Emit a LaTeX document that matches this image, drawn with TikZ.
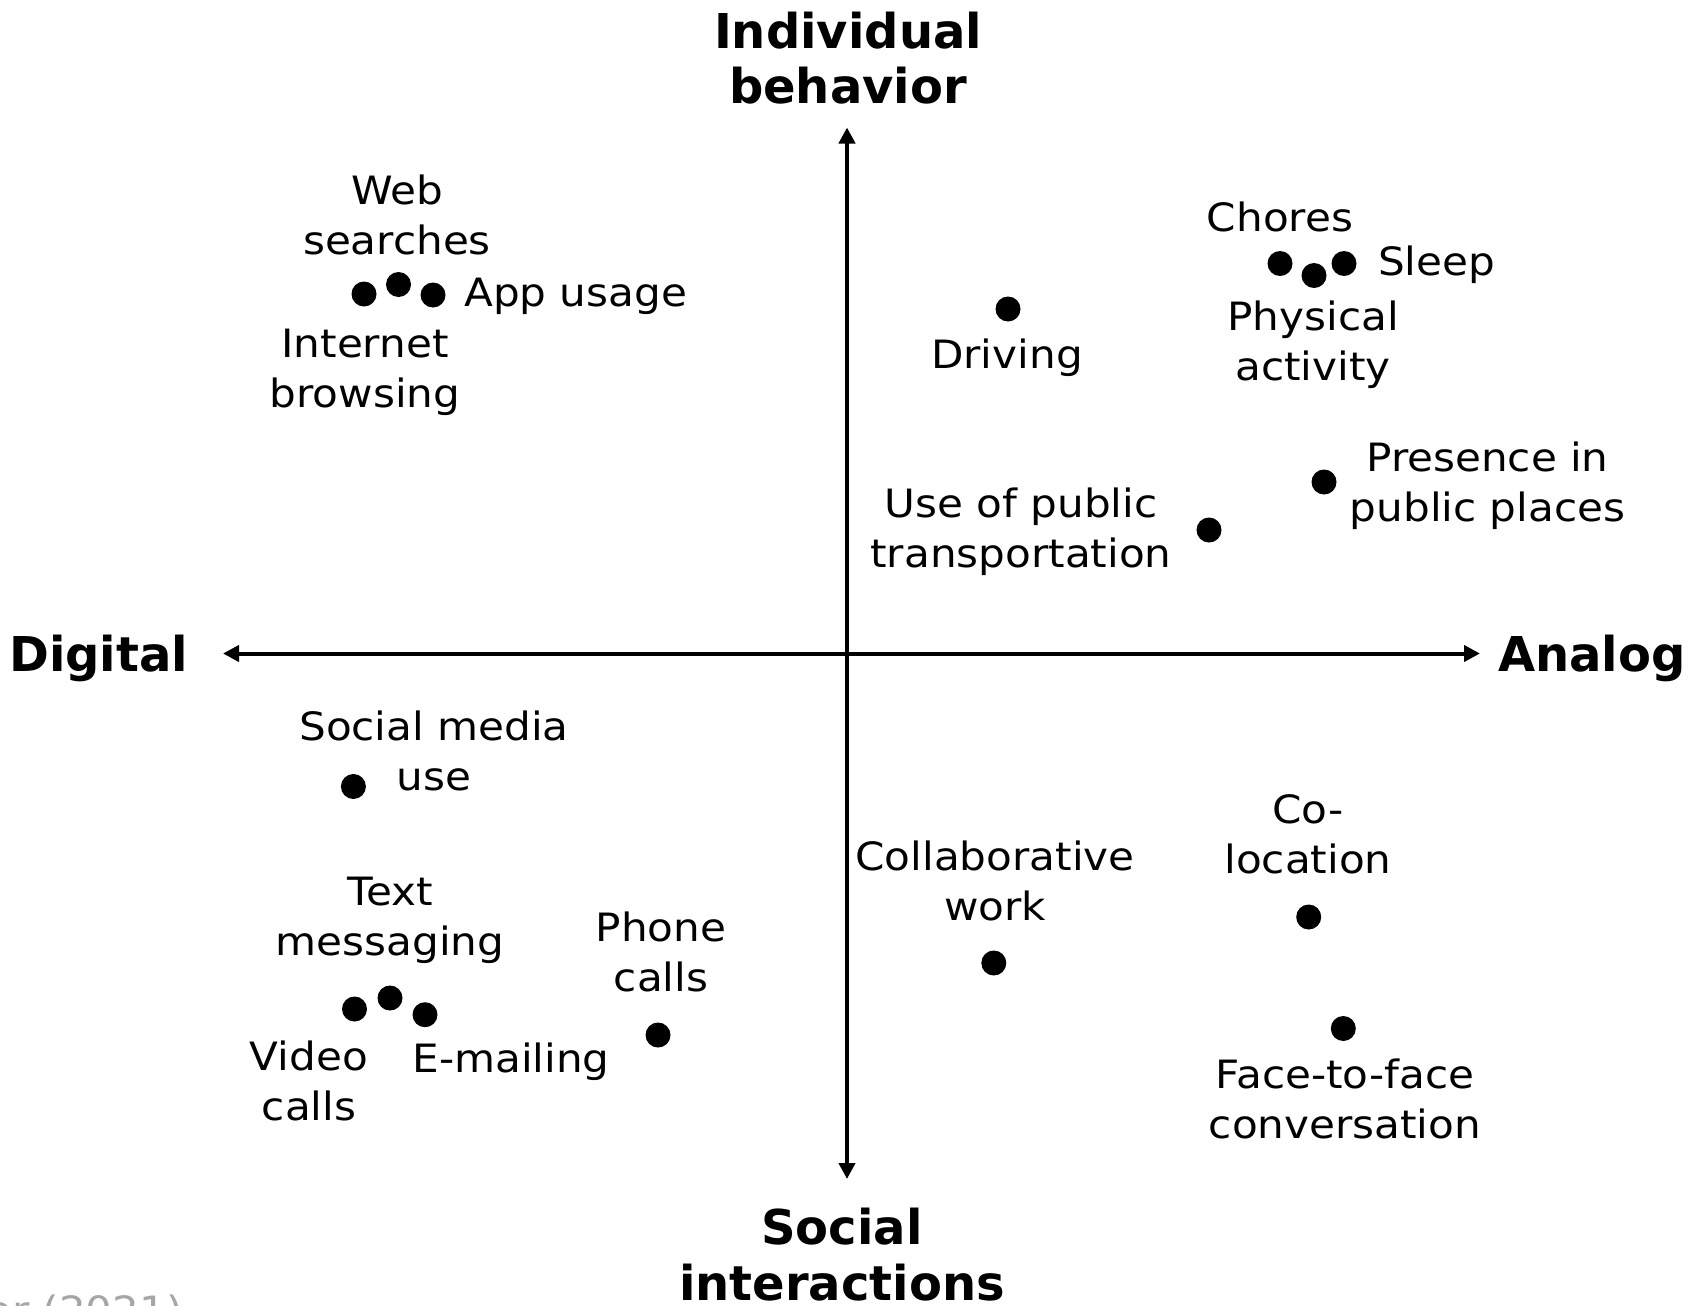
\documentclass[tikz,border=0pt]{standalone}
\usepackage{fontspec}
\setmainfont{DejaVu Sans}
\newfontfamily\lblfont[FakeStretch=1.08]{DejaVu Sans}
\usetikzlibrary{arrows.meta}
\definecolor{srcgray}{HTML}{A6A6A6}
\tikzset{
  dot/.style={circle, fill=black, inner sep=0pt, minimum size=25pt},
  lbl/.style={font=\lblfont\fontsize{39}{50}\selectfont, align=center, inner sep=0pt, anchor=base},
  axlbl/.style={font=\bfseries\fontsize{48}{55}\selectfont, align=center, inner sep=0pt, anchor=base},
  axisline/.style={line width=4pt, {Triangle[length=16pt,width=16pt]}-{Triangle[length=16pt,width=16pt]}},
}
\begin{document}
\begin{tikzpicture}[x=1pt,y=-1pt]
\useasboundingbox (0,0) rectangle (1692,1306);
\clip (0,0) rectangle (1692,1306);
\fill[white] (0,0) rectangle (1692,1306);

% axes
\coordinate (axL) at (223,653.5);
\coordinate (axR) at (1480,653.5);
\coordinate (axT) at (847,127.5);
\coordinate (axB) at (847,1179);
\draw[axisline] (axL) -- (axR);
\draw[axisline] (axB) -- (axT);

% axis labels (anchor = baseline of last line)
\node[axlbl] (indiv) at (848,103.3) {Individual\\behavior};
\node[axlbl, font=\bfseries\fontsize{48}{56}\selectfont] (social) at (842,1300.5) {Social\\interactions};
\node[axlbl] (digital) at (98.7,671.7) {Digital};
\node[axlbl] (analog) at (1592,671.7) {Analog};

% dots
\node[dot] (d-ib) at (364,294) {};
\node[dot] (d-ws) at (398.5,284.5) {};
\node[dot] (d-au) at (433,295) {};
\node[dot] (d-dr) at (1008,309) {};
\node[dot] (d-ch) at (1280,263.5) {};
\node[dot] (d-pa) at (1314,275.5) {};
\node[dot] (d-sl) at (1344,263.5) {};
\node[dot] (d-pp) at (1324,482) {};
\node[dot] (d-pt) at (1209,530) {};
\node[dot] (d-sm) at (353.4,786.5) {};
\node[dot] (d-vc) at (354.5,1009) {};
\node[dot] (d-tm) at (390,998) {};
\node[dot] (d-em) at (425,1014.7) {};
\node[dot] (d-ph) at (658,1035) {};
\node[dot] (d-cw) at (993.8,963) {};
\node[dot] (d-co) at (1308.7,917) {};
\node[dot] (d-ff) at (1343.3,1028.5) {};

% labels (anchor = baseline of last line)
\node[lbl] (t-ws) at (397,254) {Web\\searches};
\node[lbl] (t-ib) at (365,407) {Internet\\browsing};
\node[lbl, anchor=base west] (t-au) at (464,306.7) {App usage};
\node[lbl] (t-dr) at (1007,368.5) {Driving};
\node[lbl] (t-ch) at (1280,231.7) {Chores};
\node[lbl, anchor=base west] (t-sl) at (1378,275) {Sleep};
\node[lbl] (t-pa) at (1313,380) {Physical\\activity};
\node[lbl] (t-pp) at (1487.5,521.7) {Presence in\\public places};
\node[lbl] (t-pt) at (1021,567.5) {Use of public\\transportation};
\node[lbl] (t-sm) at (434,790) {Social media\\use};
\node[lbl] (t-tm) at (390,955) {Text\\messaging};
\node[lbl] (t-ph) at (661,991.7) {Phone\\calls};
\node[lbl] (t-vc) at (309,1120) {Video\\calls};
\node[lbl] (t-em) at (511,1072.7) {E-mailing};
\node[lbl] (t-cw) at (995,920.5) {Collaborative\\work};
\node[lbl] (t-co) at (1308,873) {Co-\\location};
\node[lbl] (t-ff) at (1345,1138.3) {Face-to-face\\conversation};

% source (cut off)
\node[lbl, anchor=base east, text=srcgray] (src) at (183,1324) {tor (2021)};
\end{tikzpicture}
\end{document}
